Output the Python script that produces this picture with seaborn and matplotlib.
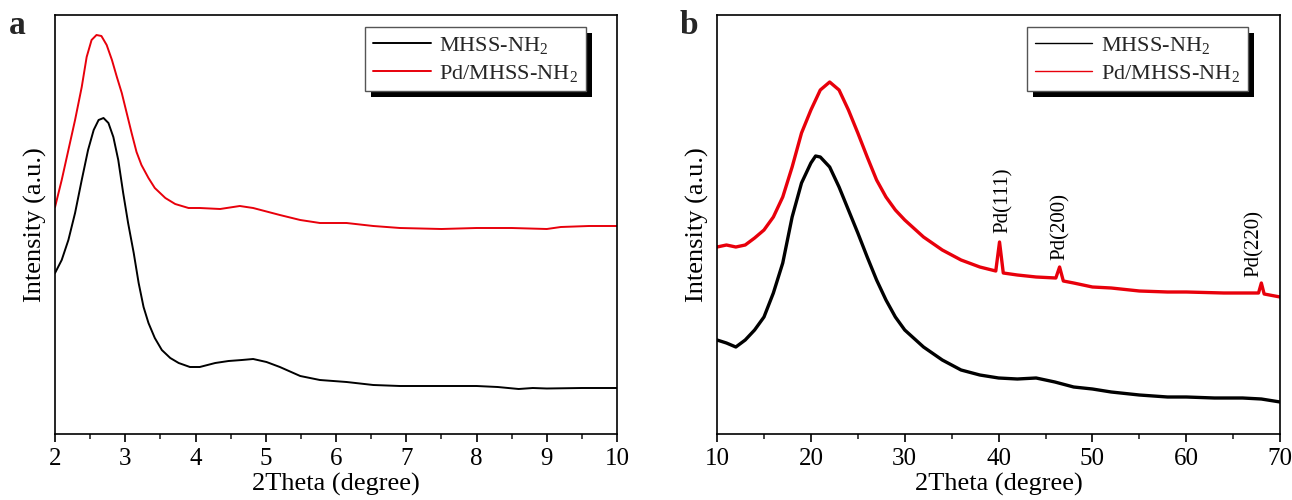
import numpy as np
import pandas as pd
import matplotlib
matplotlib.use("Agg")
import matplotlib.pyplot as plt
import seaborn as sns
from matplotlib.patches import Rectangle
from matplotlib.transforms import IdentityTransform

# ── Panel a: low-angle XRD (intensity in arbitrary units) ──────
a_x_black = [2.0, 2.095, 2.19, 2.285, 2.38, 2.47, 2.55, 2.62, 2.69, 2.76, 2.83,
             2.90, 2.97, 3.04, 3.12, 3.19, 3.26, 3.33, 3.42, 3.52, 3.64, 3.76,
             3.92, 4.06, 4.28, 4.47, 4.66, 4.82, 5.01, 5.20, 5.49, 5.77, 6.15,
             6.53, 6.91, 7.5, 8.0, 8.3, 8.6, 8.8, 9.0, 9.5, 10.0]
a_y_black = [161, 174, 194, 221, 254, 284, 304, 314, 316, 311, 297,
             274, 241, 211, 181, 151, 127, 111, 96, 84, 76, 71,
             67, 67, 71, 73, 74, 75, 72, 67, 58, 54, 52,
             49, 48, 48, 48, 47, 45, 46, 45.5, 46, 46]

a_x_red = [2.0, 2.095, 2.19, 2.285, 2.38, 2.45, 2.52, 2.59, 2.66, 2.735, 2.81,
           2.88, 2.95, 3.02, 3.09, 3.16, 3.23, 3.33, 3.42, 3.57, 3.71, 3.90,
           4.06, 4.35, 4.63, 4.82, 5.20, 5.49, 5.77, 6.15, 6.53, 6.91, 7.5,
           8.0, 8.5, 9.0, 9.2, 9.6, 10.0]
a_y_red = [227, 254, 284, 314, 347, 377, 394, 399, 398, 389, 374,
           357, 341, 321, 301, 282, 269, 256, 246, 236, 230, 226,
           226, 225, 228, 226, 219, 214, 211, 211, 208, 206, 205,
           206, 206, 205, 207, 208, 208]

# ── Panel b: wide-angle XRD ─────────────────────────────────────
b_x_black = [10, 11, 12, 13, 14, 15, 16, 17, 18, 19, 20, 20.5, 21, 22, 23, 24, 25,
             26, 27, 28, 29, 30, 32, 34, 36, 38, 40, 42, 44, 46, 48, 50, 52, 55,
             58, 60, 63, 66, 68, 70]
b_y_black = [94, 91, 87, 94, 104, 117, 141, 171, 217, 251, 271, 278, 277, 267, 247,
             224, 201, 177, 154, 134, 117, 104, 87, 74, 64, 59, 56, 55, 56, 52, 47,
             45, 42, 39, 37, 37, 36, 36, 35, 32]

b_x_red = [10, 11, 12, 13, 14, 15, 16, 17, 18, 19, 20, 21, 22, 23, 24, 25, 26, 27,
           28, 29, 30, 32, 34, 36, 38, 39.7, 40.1, 40.5, 42, 44, 46.1, 46.5, 46.9,
           48, 50, 52, 55, 58, 60, 64, 67.7, 68.0, 68.3, 70]
b_y_red = [187, 189, 187, 189, 196, 204, 217, 237, 267, 301, 324, 344, 352, 344,
           324, 301, 277, 254, 237, 224, 214, 197, 184, 174, 167, 163, 192, 161,
           159, 157, 156, 167, 153, 151, 147, 146, 143, 142, 142, 141, 141, 151,
           140, 137]

pd_labels = ["Pd(111)", "Pd(200)", "Pd(220)"]
pd_label_x = [40.5, 46.6, 67.2]
pd_label_y = [201, 174, 157]

series_names = [r"MHSS-NH$_2$", r"Pd/MHSS-NH$_2$"]
series_colors = ["#000000", "#e8000b"]

sns.set_theme(style="ticks")
plt.rcParams["font.family"] = ["Liberation Serif", "DejaVu Serif"]
plt.rcParams["mathtext.fontset"] = "custom"
plt.rcParams["mathtext.rm"] = "Liberation Serif"
plt.rcParams["mathtext.it"] = "Liberation Serif:italic"
plt.rcParams["mathtext.bf"] = "Liberation Serif:bold"

fig = plt.figure(figsize=(12.92, 5.0), dpi=100)
ax_a = fig.add_axes([0.0426, 0.132, 0.435, 0.838])
ax_b = fig.add_axes([0.555, 0.132, 0.4358, 0.838])


def style_axis(ax, xmin, xmax, major, minor):
    ax.set_xlim(xmin, xmax)
    ax.set_ylim(0, 419)
    ax.set_yticks([])
    ax.set_xticks(np.arange(xmin, xmax + 0.001, major))
    ax.set_xticks(np.arange(xmin, xmax + 0.001, minor), minor=True)
    ax.tick_params(axis="x", which="major", direction="out", length=6, width=1.2,
                   labelsize=18, pad=4, colors="black")
    ax.tick_params(axis="x", which="minor", direction="out", length=3.5, width=1.2)
    for sp in ax.spines.values():
        sp.set_visible(True)
        sp.set_linewidth(1.2)
        sp.set_color("black")
    ax.set_xlabel("2Theta (degree)", fontsize=19, labelpad=2, color="black")
    ax.set_ylabel("Intensity (a.u.)", fontsize=19, labelpad=6, color="black")


def add_legend(ax, right, top):
    leg = ax.legend(loc="upper right", bbox_to_anchor=(right, top), frameon=True,
                    fancybox=False, fontsize=16, handlelength=2.6, borderaxespad=0,
                    borderpad=0.35, labelspacing=0.3, handletextpad=0.4)
    leg.get_frame().set_edgecolor("#555555")
    leg.get_frame().set_linewidth(1.0)
    leg.get_frame().set_alpha(1)
    return leg


# panel a
df_a = pd.concat([
    pd.DataFrame({"x": a_x_black, "y": a_y_black, "s": series_names[0]}),
    pd.DataFrame({"x": a_x_red, "y": a_y_red, "s": series_names[1]}),
])
sns.lineplot(data=df_a, x="x", y="y", hue="s", palette=series_colors, lw=1.4,
             ax=ax_a, sort=False)
style_axis(ax_a, 2, 10, 1, 0.5)
leg_a = add_legend(ax_a, 0.945, 0.971)

# panel b
df_b = pd.concat([
    pd.DataFrame({"x": b_x_black, "y": b_y_black, "s": series_names[0]}),
    pd.DataFrame({"x": b_x_red, "y": b_y_red, "s": series_names[1]}),
])
sns.lineplot(data=df_b, x="x", y="y", hue="s", palette=series_colors, lw=2.4,
             ax=ax_b, sort=False)
style_axis(ax_b, 10, 70, 10, 5)
leg_b = add_legend(ax_b, 0.943, 0.971)
for line in leg_b.get_lines():
    line.set_linewidth(1.0)

for lbl, lx, ly in zip(pd_labels, pd_label_x, pd_label_y):
    ax_b.text(lx, ly, lbl, rotation=90, ha="center", va="bottom", fontsize=15,
              color="black")

fig.text(0.013, 0.95, "a", fontsize=24, fontweight="bold", ha="center", va="center")
fig.text(0.533, 0.95, "b", fontsize=24, fontweight="bold", ha="center", va="center")

# black drop shadow behind each legend box
fig.canvas.draw()
for ax, leg in [(ax_a, leg_a), (ax_b, leg_b)]:
    bb = leg.get_window_extent()
    shadow = Rectangle((bb.x0 + 6, bb.y0 - 6), bb.width, bb.height,
                       transform=IdentityTransform(), facecolor="black",
                       edgecolor="none", zorder=4.9, clip_on=False)
    ax.add_artist(shadow)

fig.savefig("out.png", dpi=100)
